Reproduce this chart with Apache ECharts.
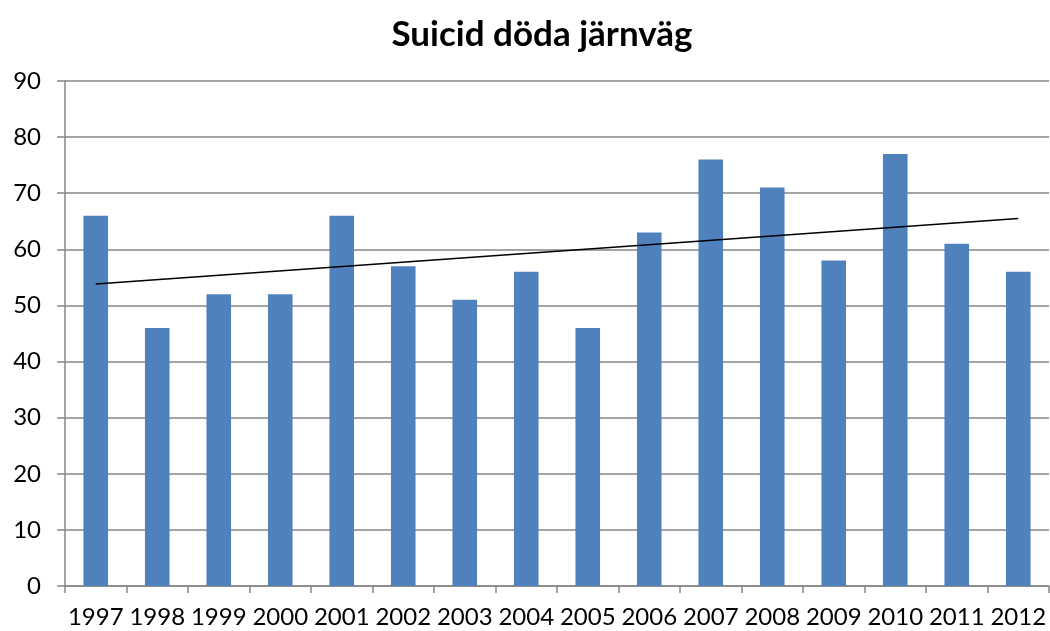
<!DOCTYPE html>
<html>
<head>
<meta charset="utf-8">
<script src="https://cdn.jsdelivr.net/npm/echarts@6/dist/echarts.min.js"></script>
<style>html,body{margin:0;padding:0;background:#fff}#main{width:1050px;height:631px}</style>
</head>
<body>
<div id="main"></div>
<script>
var years = ['1997', '1998', '1999', '2000', '2001', '2002', '2003', '2004', '2005', '2006', '2007', '2008', '2009', '2010', '2011', '2012'];
var deaths = [66, 46, 52, 52, 66, 57, 51, 56, 46, 63, 76, 71, 58, 77, 61, 56];
// trend line end points
var trendStart = 53.8;
var trendEnd = 65.5;

var myChart = echarts.init(document.getElementById('main'));
var font = 'Lato, "Open Sans", sans-serif';
option = {
    animation: false,
    title: {
        text: 'Suicid döda järnväg',
        top: 12,
        left: 537,
        textAlign: 'center',
        textStyle: { fontFamily: font, fontSize: 35, fontWeight: 'bold', color: '#000' }
    },
    grid: { left: 65, right: 1, top: 81, bottom: 45 },
    xAxis: {
        type: 'category',
        data: years,
        axisLine: { lineStyle: { color: '#868686', width: 1.5 } },
        axisTick: { show: true, length: 7, lineStyle: { color: '#868686', width: 1.5 } },
        axisLabel: { fontFamily: font, fontSize: 24, color: '#000', margin: 19, interval: 0 }
    },
    yAxis: {
        type: 'value',
        min: 0,
        max: 90,
        interval: 10,
        axisLine: { show: true, lineStyle: { color: '#868686', width: 1.5 } },
        axisTick: { show: true, length: 8, lineStyle: { color: '#868686', width: 1.5 } },
        splitLine: { lineStyle: { color: '#868686', width: 1.5 } },
        axisLabel: { fontFamily: font, fontSize: 24, color: '#000', margin: 24 }
    },
    series: [{
        name: 'Suicid',
        type: 'bar',
        data: deaths,
        barWidth: '40%',
        itemStyle: { color: '#4f81bd' }
    }, {
        name: 'Trend',
        type: 'line',
        data: years.map(function (y, i) {
            return i === 0 ? trendStart : (i === years.length - 1 ? trendEnd : null);
        }),
        connectNulls: true,
        symbol: 'none',
        lineStyle: { color: '#000', width: 1.5 }
    }]
};
myChart.setOption(option);
</script>
</body>
</html>
